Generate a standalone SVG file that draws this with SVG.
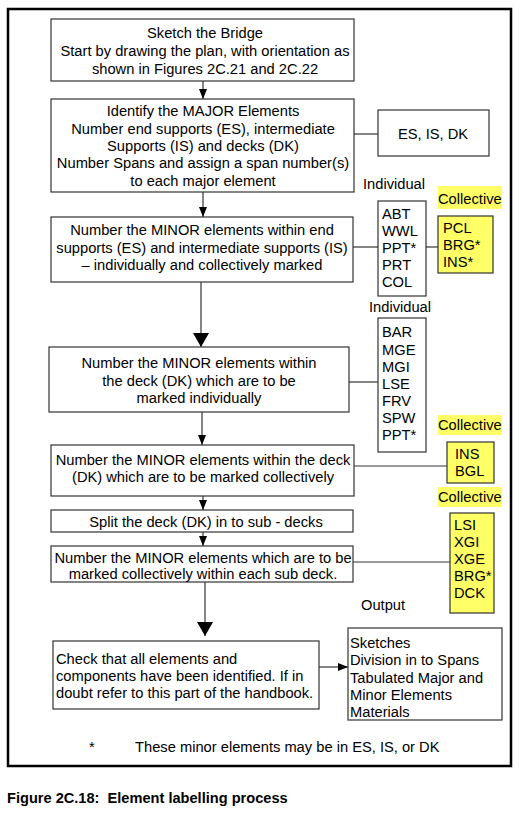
<svg xmlns="http://www.w3.org/2000/svg" width="531" height="813" viewBox="0 0 531 813">
<defs>
<style>
text{font-family:"Liberation Sans",Arial,sans-serif;font-size:14.7px;fill:#000}
.c{text-anchor:middle}
.box{fill:#fff;stroke:#333;stroke-width:1.2}
.ybox{fill:#ffff66;stroke:#333;stroke-width:1.2}
.hl{fill:#ffff66}
.ln{stroke:#333;stroke-width:1.2;fill:none}
.cap{font-weight:bold;font-size:14.6px;white-space:pre}
</style>
<marker id="sa" markerUnits="userSpaceOnUse" markerWidth="10" markerHeight="10" viewBox="0 0 10 10" refX="10" refY="5" orient="auto">
<path d="M0,1 L10,5 L0,9 Z" fill="#000"/>
</marker>
<marker id="la" markerUnits="userSpaceOnUse" markerWidth="14" markerHeight="16" viewBox="0 0 14 16" refX="14" refY="8" orient="auto">
<path d="M0,0 L14,8 L0,16 Z" fill="#000"/>
</marker>
</defs>
<rect x="8" y="9" width="503" height="757" fill="#fff" stroke="#000" stroke-width="2.5"/>
<g id="connectors">
<line class="ln" x1="203" y1="81" x2="203" y2="99" marker-end="url(#sa)"/>
<line class="ln" x1="203" y1="192" x2="203" y2="217" marker-end="url(#sa)"/>
<line class="ln" x1="201" y1="282" x2="201" y2="347" marker-end="url(#la)"/>
<line class="ln" x1="202" y1="412" x2="202" y2="445" marker-end="url(#sa)"/>
<line class="ln" x1="203" y1="496" x2="203" y2="510" marker-end="url(#sa)"/>
<line class="ln" x1="203" y1="532" x2="203" y2="546" marker-end="url(#sa)"/>
<line class="ln" x1="205" y1="582" x2="205" y2="636" marker-end="url(#la)"/>
<line class="ln" x1="354" y1="134" x2="378" y2="134"/>
<line class="ln" x1="353" y1="247" x2="378" y2="247"/>
<line class="ln" x1="426" y1="247" x2="438" y2="247"/>
<line class="ln" x1="349" y1="382" x2="378" y2="382"/>
<line class="ln" x1="354" y1="466" x2="447" y2="466"/>
<line class="ln" x1="353" y1="562" x2="450" y2="562"/>
<line class="ln" x1="319" y1="667" x2="348" y2="667" marker-end="url(#sa)"/>
</g>
<g id="n1">
<rect class="box" x="51" y="19" width="303" height="62"/>
<text class="c" x="205" y="38">Sketch the Bridge</text>
<text class="c" x="205" y="56">Start by drawing the plan, with orientation as</text>
<text class="c" x="205" y="74">shown in Figures 2C.21 and 2C.22</text>
</g>
<g id="n2">
<rect class="box" x="51" y="99" width="303" height="93"/>
<text class="c" x="203" y="116">Identify the MAJOR Elements</text>
<text class="c" x="203" y="134">Number end supports (ES), intermediate</text>
<text class="c" x="203" y="151">Supports (IS) and decks (DK)</text>
<text class="c" x="203" y="168">Number Spans and assign a span number(s)</text>
<text class="c" x="203" y="186">to each major element</text>
</g>
<g id="n_major">
<rect class="box" x="378" y="110" width="111" height="46"/>
<text class="c" x="433" y="139">ES, IS, DK</text>
</g>
<text x="363" y="189">Individual</text>
<g id="lbl_coll1">
<rect class="hl" x="438" y="186" width="64" height="23"/>
<text x="438" y="204">Collective</text>
</g>
<g id="n3">
<rect class="box" x="51" y="217" width="302" height="65"/>
<text class="c" x="202" y="235">Number the MINOR elements within end</text>
<text class="c" x="202" y="253">supports (ES) and intermediate supports (IS)</text>
<text class="c" x="202" y="270">– individually and collectively marked</text>
</g>
<g id="n_ind1">
<rect class="box" x="378" y="201" width="48" height="95"/>
<text x="382" y="219">ABT</text>
<text x="382" y="236">WWL</text>
<text x="382" y="253">PPT*</text>
<text x="382" y="270">PRT</text>
<text x="382" y="287">COL</text>
</g>
<g id="n_coll1">
<rect class="ybox" x="438" y="216" width="55" height="57"/>
<text x="443" y="233">PCL</text>
<text x="443" y="250">BRG*</text>
<text x="443" y="267">INS*</text>
</g>
<text x="369" y="312">Individual</text>
<g id="n4">
<rect class="box" x="49" y="347" width="300" height="65"/>
<text class="c" x="199" y="368">Number the MINOR elements within</text>
<text class="c" x="199" y="386">the deck (DK) which are to be</text>
<text class="c" x="199" y="403">marked individually</text>
</g>
<g id="n_ind2">
<rect class="box" x="378" y="318" width="48" height="134"/>
<text x="382" y="337">BAR</text>
<text x="382" y="355">MGE</text>
<text x="382" y="372">MGI</text>
<text x="382" y="389">LSE</text>
<text x="382" y="406">FRV</text>
<text x="382" y="423">SPW</text>
<text x="382" y="440">PPT*</text>
</g>
<g id="lbl_coll2">
<rect class="hl" x="438" y="415" width="64" height="20"/>
<text x="438" y="430">Collective</text>
</g>
<g id="n5">
<rect class="box" x="51" y="445" width="303" height="51"/>
<text class="c" x="203" y="465">Number the MINOR elements within the deck</text>
<text class="c" x="203" y="482">(DK) which are to be marked collectively</text>
</g>
<g id="n_coll2">
<rect class="ybox" x="447" y="442" width="47" height="41"/>
<text x="455" y="459">INS</text>
<text x="455" y="476">BGL</text>
</g>
<g id="lbl_coll3">
<rect class="hl" x="438" y="487" width="64" height="20"/>
<text x="438" y="502">Collective</text>
</g>
<g id="n6">
<rect class="box" x="51" y="510" width="302" height="22"/>
<text class="c" x="206" y="527">Split the deck (DK) in to sub - decks</text>
</g>
<g id="n7">
<rect class="box" x="51" y="546" width="302" height="36"/>
<text class="c" x="203" y="563">Number the MINOR elements which are to be</text>
<text class="c" x="203" y="579">marked collectively within each sub deck.</text>
</g>
<g id="n_coll3">
<rect class="ybox" x="450" y="513" width="44" height="100"/>
<text x="454" y="530">LSI</text>
<text x="454" y="547">XGI</text>
<text x="454" y="564">XGE</text>
<text x="454" y="581">BRG*</text>
<text x="454" y="598">DCK</text>
</g>
<text x="361" y="610">Output</text>
<g id="n8">
<rect class="box" x="53" y="641" width="266" height="68"/>
<text x="56" y="664">Check that all elements and</text>
<text x="56" y="681">components have been identified. If in</text>
<text x="56" y="698">doubt refer to this part of the handbook.</text>
</g>
<g id="n_out">
<rect class="box" x="348" y="628" width="154" height="92"/>
<text x="350" y="648">Sketches</text>
<text x="350" y="665">Division in to Spans</text>
<text x="350" y="683">Tabulated Major and</text>
<text x="350" y="700">Minor Elements</text>
<text x="350" y="717">Materials</text>
</g>
<text x="89" y="752">*</text>
<text x="135" y="752">These minor elements may be in ES, IS, or DK</text>
<text class="cap" x="7" y="803" xml:space="preserve">Figure 2C.18:  Element labelling process</text>
</svg>
